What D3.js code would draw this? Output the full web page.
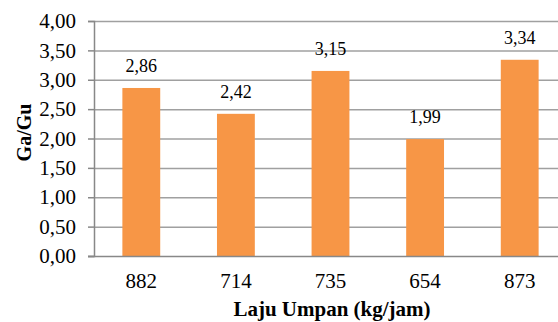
<!DOCTYPE html>
<html><head><meta charset="utf-8">
<script src="https://cdn.jsdelivr.net/npm/d3@7"></script>
<style>body{margin:0;background:#fff}svg{display:block}</style>
</head><body><svg id="c" width="558" height="322"></svg>
<script>
const categories = ["882","714","735","654","873"];
const values = [2.86, 2.42, 3.15, 1.99, 3.34];
const yTicks = [0,0.5,1,1.5,2,2.5,3,3.5,4];
const xTitle = "Laju Umpan (kg/jam)";
const yTitle = "Ga/Gu";

const FONT = '"Liberation Serif"';
const FS = "21px";
const svg = d3.select("#c");
const m = {left:94, top:21, right:567, bottom:256};
const x = d3.scaleBand().domain(categories).range([m.left, m.right]).paddingInner(0.6).paddingOuter(0.3);
const y = d3.scaleLinear().domain([0,4]).range([m.bottom, m.top]);
const fmt = v => d3.format(".2f")(v).replace(".", ",");

svg.append("g").selectAll("line").data(yTicks.slice(1)).join("line")
  .attr("x1", m.left).attr("x2", m.right)
  .attr("y1", d=>y(d)+0.5).attr("y2", d=>y(d)+0.5)
  .attr("stroke","#a0a0a0").attr("stroke-width",1.5);

svg.append("g").selectAll("rect").data(values).join("rect")
  .attr("x",(d,i)=>x(categories[i])).attr("width",x.bandwidth())
  .attr("y",d=>y(d)).attr("height",d=>y(0)-y(d))
  .attr("fill","#F79646");

const yAxis = d3.axisLeft(y).tickValues(yTicks).tickFormat(fmt).tickSize(6).tickPadding(12);
const gy = svg.append("g").attr("transform",`translate(${m.left},0)`).call(yAxis);
gy.select(".domain").attr("stroke","#888").attr("stroke-width",1.5);
gy.selectAll(".tick line").attr("stroke","#888").attr("stroke-width",1.5);
gy.selectAll("text").style("font-size",FS).style("font-family",FONT).attr("fill","#000");

const xAxis = d3.axisBottom(x).tickSize(0).tickPadding(17);
const gx = svg.append("g").attr("transform",`translate(0,${m.bottom})`).call(xAxis);
gx.select(".domain").attr("stroke","#888").attr("stroke-width",1.5).attr("d",`M${m.left-6},0.5H${m.right}`);
gx.selectAll("text").style("font-size",FS).style("font-family",FONT).attr("fill","#000");

svg.append("g").selectAll("text").data(values).join("text")
  .attr("x",(d,i)=>x(categories[i])+x.bandwidth()/2)
  .attr("y",d=>y(d)-16)
  .attr("text-anchor","middle").style("font-size","18px").style("font-family",FONT).text(d=>fmt(d));

svg.append("text").attr("x",332).attr("y",316).attr("text-anchor","middle")
  .style("font-size",FS).style("font-family",FONT).attr("font-weight","bold").text(xTitle);
svg.append("text").attr("transform",`translate(31,${(m.top+m.bottom)/2-6}) rotate(-90)`)
  .attr("text-anchor","middle").style("font-size","20px").style("font-family",FONT).attr("font-weight","bold").text(yTitle);
</script></body></html>
